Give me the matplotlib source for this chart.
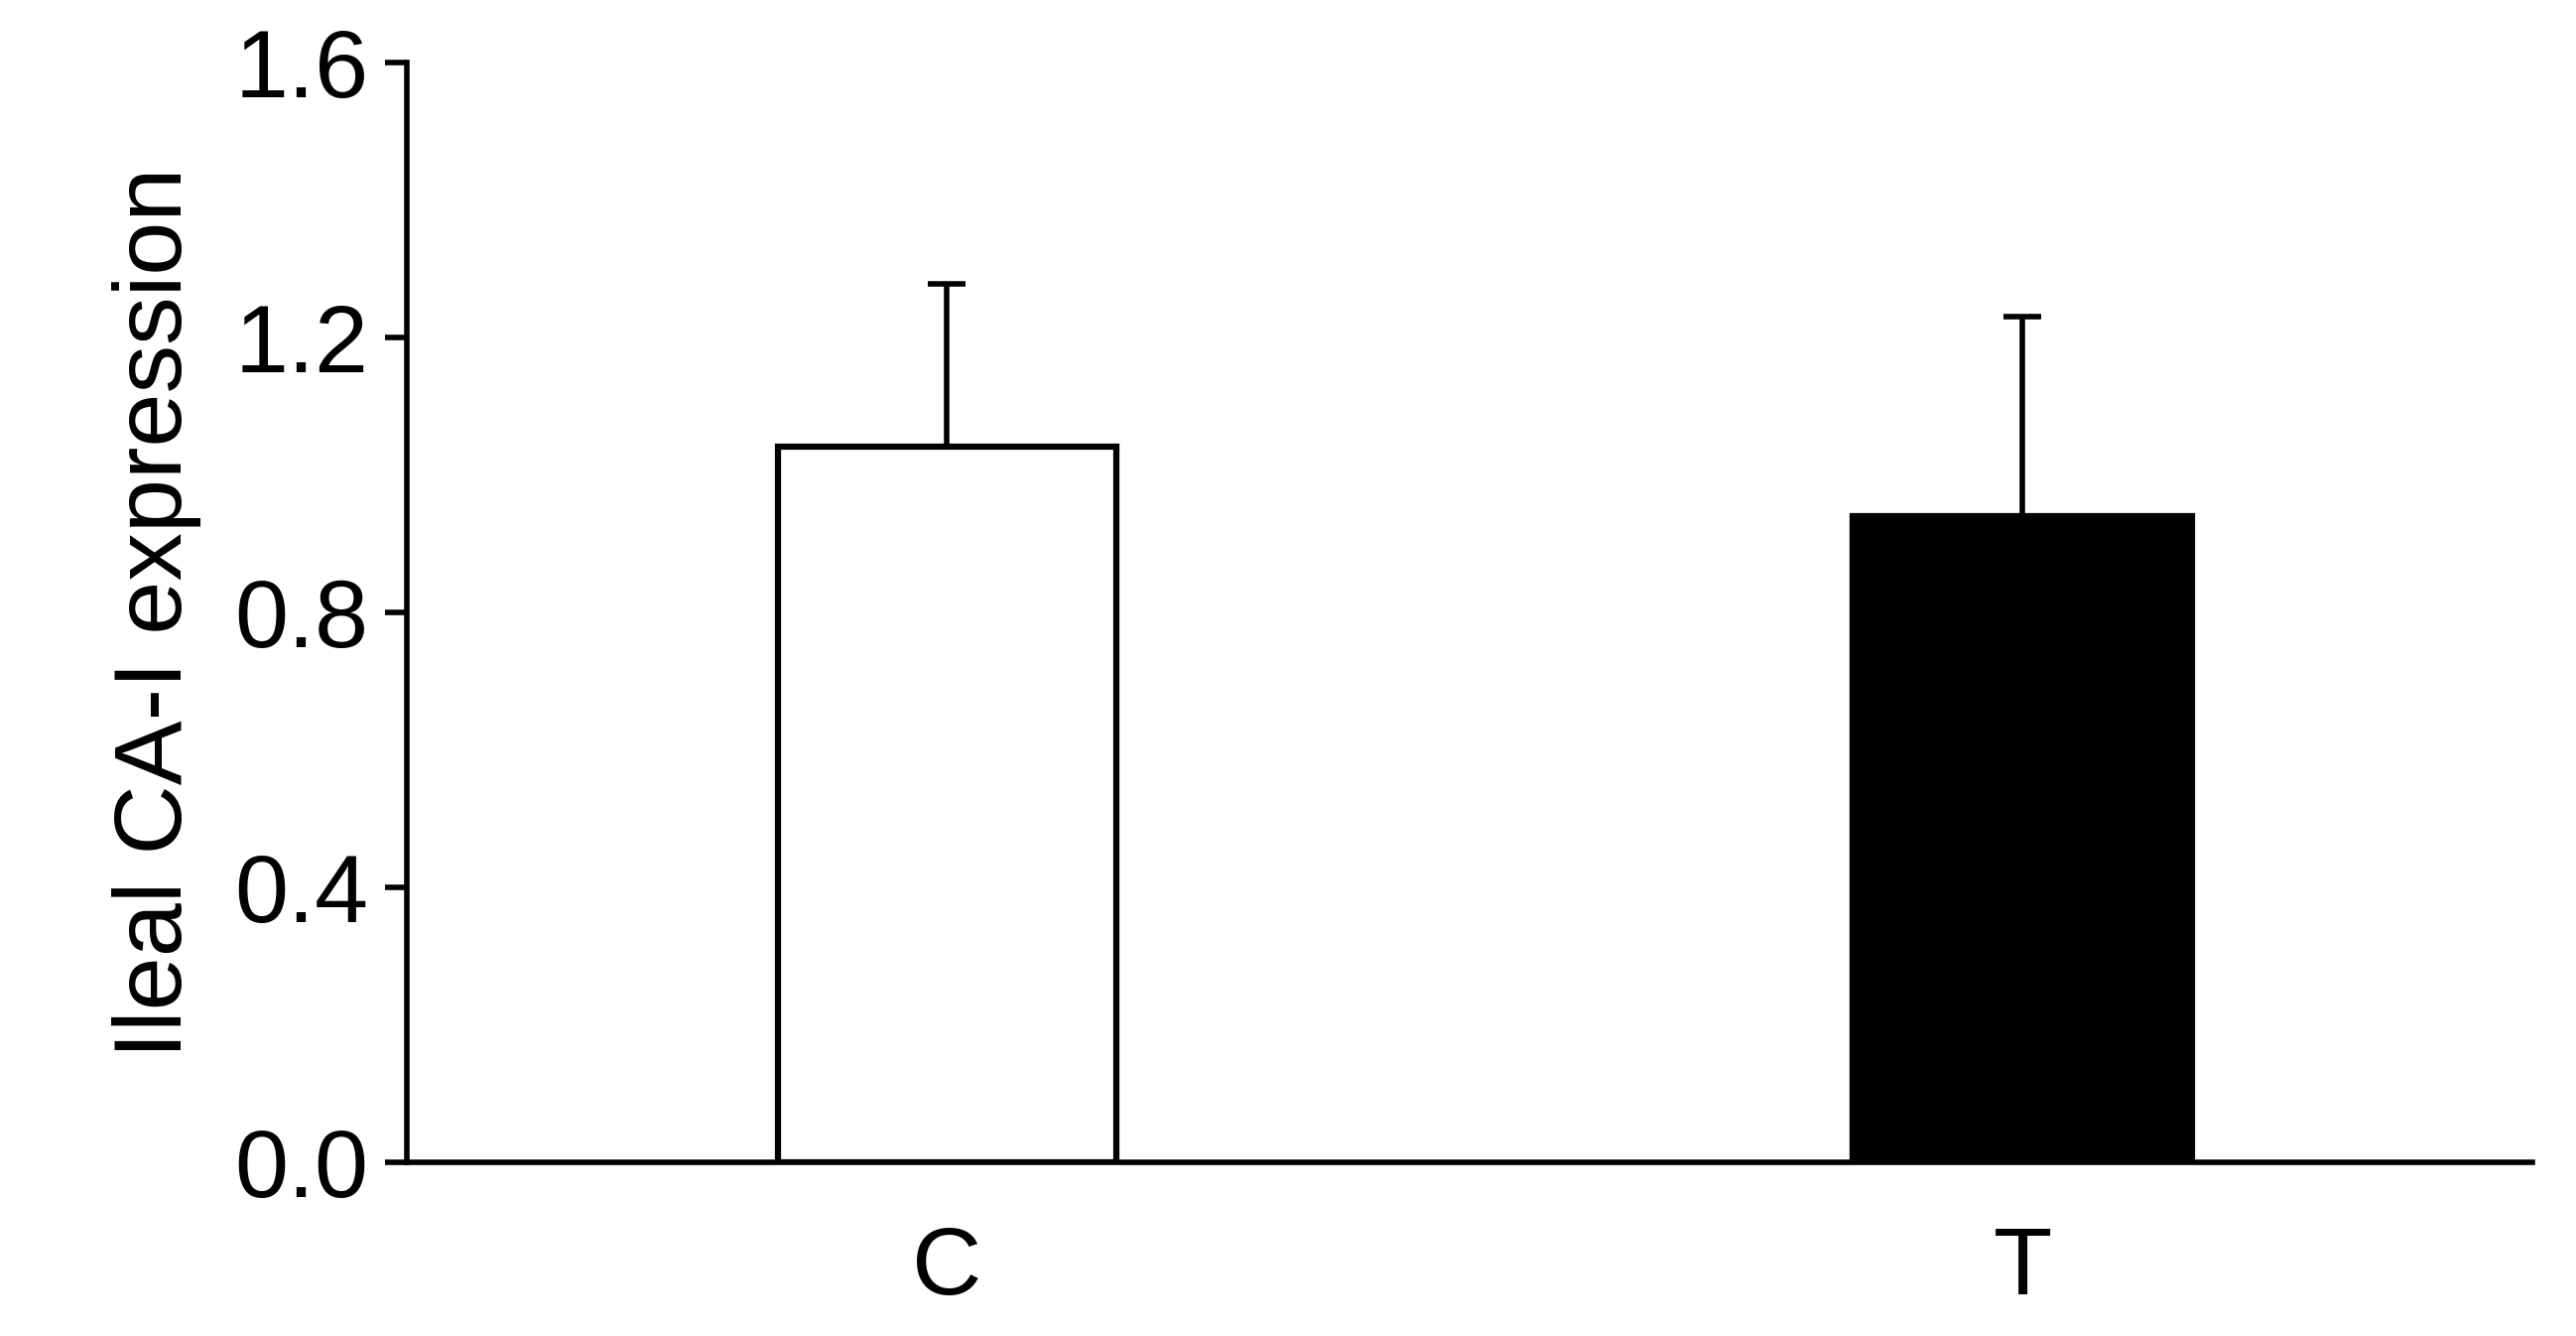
import matplotlib

matplotlib.use("Agg")
import matplotlib.pyplot as plt

GROUPS = ["C", "T"]
MEANS = [1.042, 0.941]
ERRS = [0.237, 0.290]
COLORS = ["white", "black"]

plt.rcParams["font.family"] = ["Liberation Sans", "DejaVu Sans"]

fig = plt.figure(figsize=(25.96, 13.46), dpi=100)
ax = fig.add_axes([0.158, 0.130, 0.825, 0.823])

x = range(len(GROUPS))
ax.bar(x, MEANS, width=0.315, color=COLORS, edgecolor="black", linewidth=4.5,
       yerr=[[0, 0], ERRS], capsize=14,
       error_kw={"elinewidth": 4, "capthick": 4, "ecolor": "black"}, zorder=2)

ax.set_xlim(-0.502, 1.474)
ax.set_ylim(0, 1.6)
ax.set_yticks([0.0, 0.4, 0.8, 1.2, 1.6])
ax.set_yticklabels(["0.0", "0.4", "0.8", "1.2", "1.6"])
ax.set_xticks(list(x))
ax.set_xticklabels(GROUPS)
ax.tick_params(axis="x", length=0, pad=45, labelsize=70)
ax.tick_params(axis="y", length=16, width=4, pad=12, labelsize=70)
ax.set_ylabel("Ileal CA-I expression", fontsize=70, labelpad=24)
for s in ["top", "right"]:
    ax.spines[s].set_visible(False)
for s in ["left", "bottom"]:
    ax.spines[s].set_linewidth(4)

fig.savefig("out.png", dpi=100)
